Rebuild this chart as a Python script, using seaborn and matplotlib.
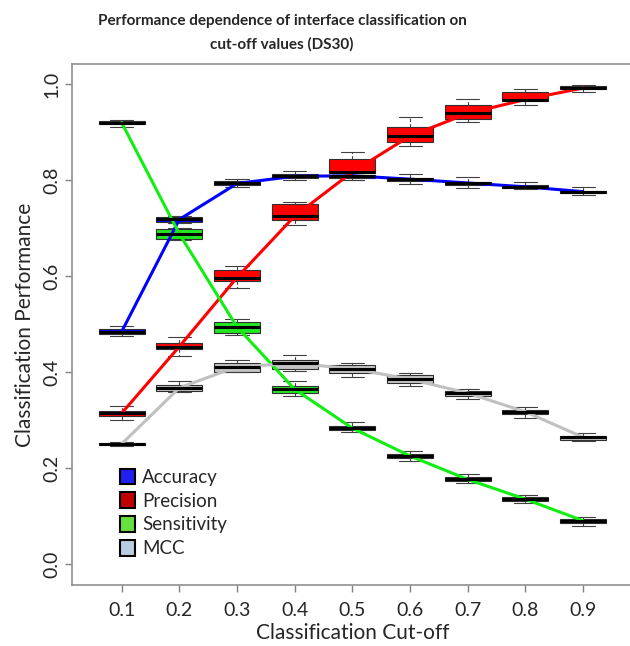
import numpy as np
import pandas as pd
import matplotlib
matplotlib.use("Agg")
import matplotlib.pyplot as plt
import seaborn as sns
from matplotlib.patches import Patch

# cut-off values on the x axis
cutoffs = ["0.1", "0.2", "0.3", "0.4", "0.5", "0.6", "0.7", "0.8", "0.9"]
metrics = ["Accuracy", "Precision", "Sensitivity", "MCC"]

# five number summary per cut-off: (low whisker, q1, median, q3, high whisker)
accuracy = [(0.475, 0.479, 0.484, 0.489, 0.496), (0.710, 0.712, 0.718, 0.724, 0.726),
            (0.786, 0.789, 0.793, 0.799, 0.802), (0.801, 0.804, 0.808, 0.812, 0.818),
            (0.800, 0.805, 0.809, 0.811, 0.815), (0.792, 0.799, 0.802, 0.805, 0.812),
            (0.784, 0.790, 0.794, 0.797, 0.806), (0.781, 0.784, 0.786, 0.789, 0.796),
            (0.770, 0.774, 0.776, 0.778, 0.786)]
precision = [(0.299, 0.308, 0.314, 0.318, 0.329), (0.433, 0.447, 0.453, 0.460, 0.472),
             (0.576, 0.590, 0.597, 0.612, 0.621), (0.707, 0.717, 0.725, 0.750, 0.755),
             (0.800, 0.815, 0.817, 0.844, 0.858), (0.872, 0.880, 0.892, 0.911, 0.932),
             (0.922, 0.928, 0.939, 0.956, 0.969), (0.956, 0.965, 0.968, 0.984, 0.989),
             (0.983, 0.989, 0.992, 0.997, 0.999)]
sensitivity = [(0.910, 0.917, 0.920, 0.923, 0.925), (0.675, 0.678, 0.688, 0.699, 0.701),
               (0.477, 0.481, 0.494, 0.505, 0.511), (0.350, 0.356, 0.364, 0.371, 0.382),
               (0.274, 0.279, 0.283, 0.287, 0.296), (0.215, 0.221, 0.225, 0.229, 0.236),
               (0.168, 0.172, 0.176, 0.181, 0.188), (0.128, 0.131, 0.135, 0.139, 0.144),
               (0.079, 0.085, 0.090, 0.094, 0.098)]
mcc = [(0.245, 0.247, 0.250, 0.253, 0.255), (0.359, 0.361, 0.367, 0.372, 0.382),
       (0.399, 0.401, 0.411, 0.419, 0.426), (0.403, 0.407, 0.418, 0.426, 0.435),
       (0.389, 0.397, 0.407, 0.415, 0.419), (0.371, 0.378, 0.385, 0.394, 0.397),
       (0.343, 0.351, 0.356, 0.361, 0.365), (0.304, 0.312, 0.317, 0.321, 0.328),
       (0.257, 0.259, 0.264, 0.267, 0.273)]

box_colors = ["#0000ff", "#ff0000", "#22e622", "#c4c4c4"]
line_colors = ["#0000ff", "#ff0000", "#11ee11", "#c0c0c0"]
legend_colors = ["#2020f0", "#c00000", "#66e040", "#b8cce4"]

rows = []
for name, summ in zip(metrics, [accuracy, precision, sensitivity, mcc]):
    for c, vals in zip(cutoffs, summ):
        for v in vals:
            rows.append({"cutoff": c, "metric": name, "value": v})
df = pd.DataFrame(rows)

sns.set_style("white")
plt.rcParams["font.family"] = ["Lato", "DejaVu Sans"]

fig = plt.figure(figsize=(6.3, 6.46), dpi=100)
ax = fig.add_axes([0.1143, 0.0944, 0.890, 0.8065])

sns.boxplot(data=df, x="cutoff", y="value", hue="metric", order=cutoffs, hue_order=metrics,
            palette=box_colors, saturation=1, dodge=False, whis=(0, 100), width=0.8,
            linecolor="#303030", linewidth=0.8, legend=False, ax=ax,
            medianprops=dict(color="black", linewidth=2.2),
            whiskerprops=dict(color="#404040", linestyle=(0, (3, 2)), linewidth=0.8),
            capprops=dict(color="#404040", linewidth=0.8))

sns.pointplot(data=df, x="cutoff", y="value", hue="metric", order=cutoffs, hue_order=metrics,
              palette=line_colors, estimator="median", errorbar=None, marker="",
              linewidth=2.2, legend=False, ax=ax)

ax.set_xlim(-0.86, 8.86)
ax.set_ylim(-0.044, 1.042)
ax.set_yticks([0.0, 0.2, 0.4, 0.6, 0.8, 1.0])
ax.set_yticklabels(["0.0", "0.2", "0.4", "0.6", "0.8", "1.0"], rotation=90, va="center")
ax.tick_params(axis="both", direction="out", length=5, width=1, color="#808080",
               labelsize=14, left=True, bottom=True)
ax.tick_params(axis="x", pad=7)
for s in ax.spines.values():
    s.set_color("#909090")
    s.set_linewidth(1.2)

ax.set_xlabel("Classification Cut-off", fontsize=15, labelpad=3)
ax.set_ylabel("Classification Performance", fontsize=15, labelpad=6)

fig.text(0.448, 0.978, "Performance dependence of interface classification on\ncut-off values (DS30)",
         ha="center", va="top", fontsize=11, fontweight="bold", linespacing=1.75)

handles = [Patch(facecolor=c, edgecolor="black", linewidth=1.5, label=m)
           for c, m in zip(legend_colors, metrics)]
ax.legend(handles=handles, loc="upper left", bbox_to_anchor=(0.072, 0.238), frameon=False,
          fontsize=13.5, handlelength=0.8, handleheight=0.9, handletextpad=0.4,
          labelspacing=0.35, borderaxespad=0)

fig.savefig("out.png", dpi=100)
